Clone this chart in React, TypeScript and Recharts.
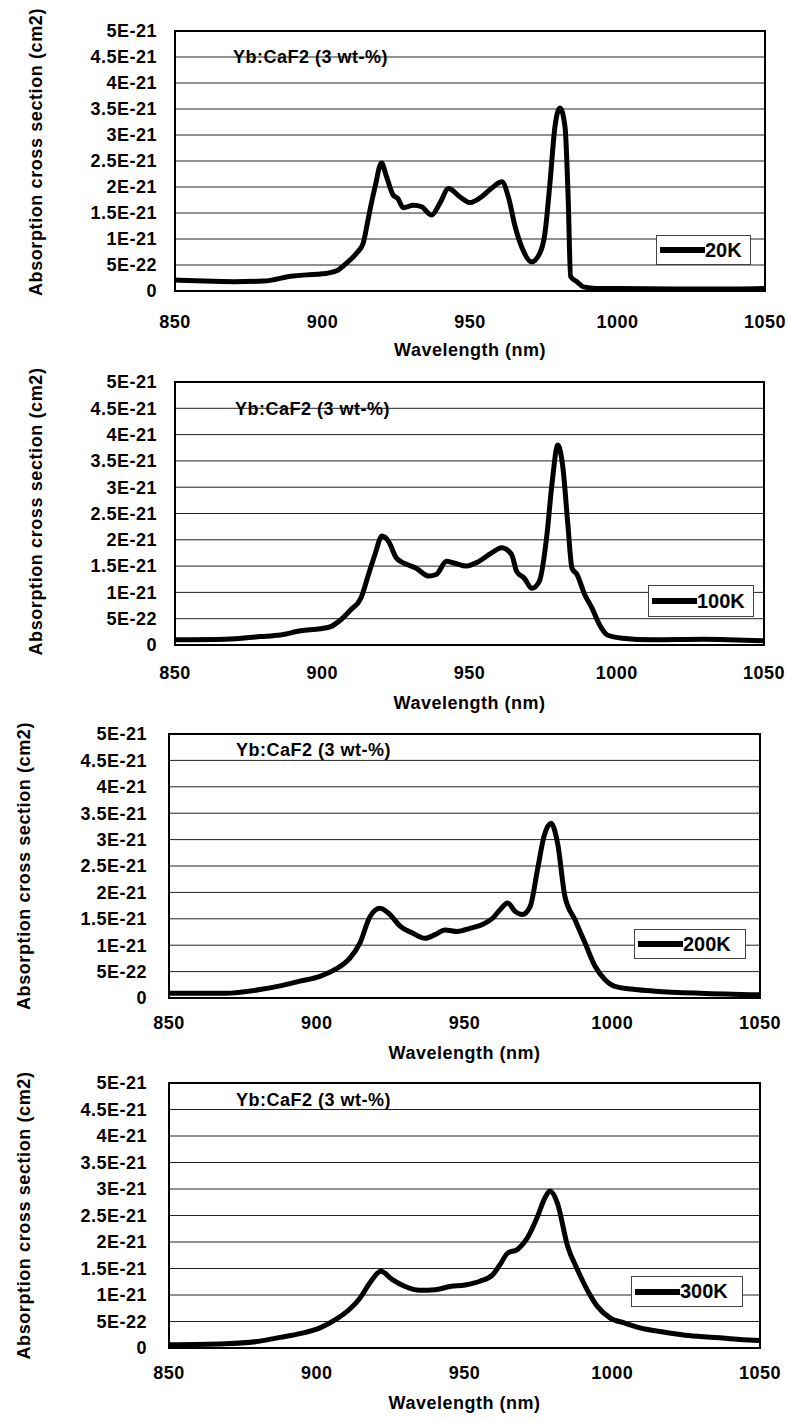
import React from "react";
import {
  LineChart,
  Line,
  XAxis,
  YAxis,
  CartesianGrid,
  Legend,
  ReferenceArea,
  ReferenceDot,
  Label,
} from "recharts";

// absorption cross section, in units of 1E-21 cm2
const wl20K = [850, 860, 870, 880, 890, 894.6, 900, 904.8, 908.2, 911.6, 913.8, 915, 916.1, 917.8, 920, 921.7, 923.9, 925.5, 927.4, 930.8, 933.6, 937, 939.8, 942.7, 946.6, 950, 953.4, 957.4, 960.8, 963, 965.3, 967.5, 970.9, 973.7, 975.4, 977.1, 978.8, 980.5, 982.2, 983.3, 984.1, 986.2, 988.4, 993, 1000, 1020, 1040, 1050];
const abs20K = [0.21, 0.19, 0.18, 0.19, 0.29, 0.31, 0.33, 0.39, 0.54, 0.73, 0.92, 1.24, 1.56, 2.0, 2.46, 2.2, 1.85, 1.78, 1.6, 1.65, 1.62, 1.46, 1.69, 1.97, 1.81, 1.7, 1.79, 1.98, 2.1, 1.81, 1.24, 0.85, 0.56, 0.73, 1.11, 2.07, 3.16, 3.52, 3.16, 1.75, 0.28, 0.18, 0.08, 0.05, 0.05, 0.04, 0.04, 0.05];

const wl100K = [850, 867, 879, 885.8, 892.7, 899.5, 902.9, 906.3, 909.7, 913.1, 915.7, 917.9, 920.3, 922.5, 925.1, 927.6, 931.9, 936.2, 938.7, 942.2, 944.7, 949, 953.2, 957.5, 960.9, 964.3, 966, 968.6, 971.2, 973.7, 976.3, 978, 980, 981.7, 983.4, 984.8, 986.5, 989.1, 991.6, 994.2, 996.8, 1001.9, 1012.1, 1029.2, 1049.7];
const abs100K = [0.1, 0.11, 0.16, 0.19, 0.27, 0.31, 0.35, 0.48, 0.67, 0.89, 1.34, 1.72, 2.07, 1.97, 1.66, 1.56, 1.46, 1.31, 1.34, 1.59, 1.56, 1.5, 1.59, 1.75, 1.85, 1.72, 1.4, 1.27, 1.08, 1.21, 2.1, 3.06, 3.8, 3.38, 2.29, 1.46, 1.34, 0.96, 0.7, 0.38, 0.19, 0.13, 0.1, 0.11, 0.08];

const wl200K = [850, 869, 880.8, 887.6, 894.3, 901.1, 906.2, 911.3, 914.6, 918, 921.4, 924.8, 928.2, 932.4, 936.6, 940, 943.4, 947.6, 951.9, 956.1, 959.5, 962, 964.6, 967.1, 969.6, 972.2, 974.7, 976.9, 979.3, 981.5, 984, 987.4, 990.8, 994.2, 997.5, 1000.9, 1007.7, 1014.5, 1029.7, 1050];
const abs200K = [0.09, 0.09, 0.16, 0.23, 0.32, 0.41, 0.54, 0.76, 1.04, 1.54, 1.7, 1.58, 1.36, 1.23, 1.13, 1.2, 1.29, 1.26, 1.32, 1.39, 1.51, 1.67, 1.8, 1.64, 1.58, 1.73, 2.43, 3.06, 3.31, 2.93, 1.92, 1.48, 1.04, 0.6, 0.35, 0.22, 0.16, 0.13, 0.09, 0.06];

const wl300K = [850, 869, 880.8, 887.6, 894.3, 901.1, 906.2, 911.3, 914.6, 918, 921.7, 925.6, 929.9, 934.9, 940, 945.1, 950.2, 955.2, 959.5, 962, 964.6, 967.9, 971.3, 974.7, 977.2, 978.9, 981.4, 984.9, 988.2, 991.5, 994.9, 999.2, 1004.3, 1009.4, 1016.2, 1024.6, 1034.8, 1043.2, 1050];
const abs300K = [0.06, 0.08, 0.13, 0.2, 0.27, 0.38, 0.53, 0.74, 0.94, 1.23, 1.45, 1.29, 1.16, 1.09, 1.1, 1.16, 1.19, 1.26, 1.38, 1.57, 1.79, 1.86, 2.08, 2.48, 2.83, 2.96, 2.74, 1.92, 1.48, 1.1, 0.79, 0.57, 0.47, 0.38, 0.31, 0.24, 0.2, 0.16, 0.14];

const xTicks = [850, 900, 950, 1000, 1050];
const yTicks = [0, 0.5, 1, 1.5, 2, 2.5, 3, 3.5, 4, 4.5, 5];
const sampleLabel = "Yb:CaF2 (3 wt-%)";
const xTitle = "Wavelength (nm)";
const yTitle = "Absorption cross section (cm2)";

const FONT = "'Liberation Sans', Arial, sans-serif";

const toRows = (wl: number[], v: number[]) => wl.map((w, i) => ({ wl: w, v: v[i] }));
const fmtY = (v: number) => (v === 0 ? "0" : v === 0.5 ? "5E-22" : `${v}E-21`);

const panels = [
  { name: "20K", rows: toRows(wl20K, abs20K), top: 0, height: 365, plotTop: 31, plotBottom: 291, plotLeft: 175, plotRight: 765, xGap: 24, titleGap: 52, yGap: 18, yTitleX: 36, yTitleShift: -9, labelX: 869.3, labelY: 4.5, legend: { left: 656, top: 235, w: 95, h: 30 } },
  { name: "100K", rows: toRows(wl100K, abs100K), top: 362, height: 360, plotTop: 20, plotBottom: 283, plotLeft: 175, plotRight: 764, xGap: 21, titleGap: 51, yGap: 18, yTitleX: 36, yTitleShift: -2, labelX: 870, labelY: 4.5, legend: { left: 648, top: 223, w: 106, h: 32 } },
  { name: "200K", rows: toRows(wl200K, abs200K), top: 716, height: 350, plotTop: 18, plotBottom: 282, plotLeft: 169, plotRight: 760, xGap: 18, titleGap: 48, yGap: 22, yTitleX: 24, yTitleShift: 0, labelX: 872.3, labelY: 4.7, legend: { left: 634, top: 213, w: 112, h: 30 } },
  { name: "300K", rows: toRows(wl300K, abs300K), top: 1066, height: 356, plotTop: 17, plotBottom: 282, plotLeft: 169, plotRight: 760, xGap: 18, titleGap: 48, yGap: 22, yTitleX: 24, yTitleShift: 0, labelX: 872.3, labelY: 4.68, legend: { left: 631, top: 210, w: 112, h: 31 } },
];

function LegendBox({ payload, w, h }: any) {
  const item = payload && payload[0];
  return (
    <div
      style={{
        width: w,
        height: h,
        boxSizing: "border-box",
        border: "1px solid #444",
        background: "#fff",
        display: "flex",
        alignItems: "center",
        fontFamily: FONT,
        fontSize: 20,
        fontWeight: "bold",
        color: "#000",
      }}
    >
      <svg width={48} height={10}>
        <line x1={3} y1={5} x2={48} y2={5} stroke="#000" strokeWidth={6} />
      </svg>
      <span>{item ? item.value : ""}</span>
    </div>
  );
}

function Panel({ p }: any) {
  const tickStyle = { fill: "#000", fontSize: 18, fontFamily: FONT, fontWeight: "bold", letterSpacing: 0.5 };
  return (
    <div style={{ position: "absolute", left: 0, top: p.top }}>
      <LineChart
        width={787}
        height={p.height}
        data={p.rows}
        margin={{ top: p.plotTop, right: 787 - p.plotRight, left: 0, bottom: 0 }}
      >
        <CartesianGrid vertical={false} stroke="#222" strokeWidth={1} />
        <XAxis
          dataKey="wl"
          type="number"
          domain={[850, 1050]}
          ticks={xTicks}
          interval={0}
          axisLine={false}
          tickLine={false}
          tickSize={0}
          tickMargin={p.xGap}
          height={p.height - p.plotBottom}
          tick={tickStyle}
        >
          <Label
            value={xTitle}
            position="insideTop"
            offset={p.titleGap}
            fill="#000"
            fontSize={18}
            fontWeight="bold"
            fontFamily={FONT}
            letterSpacing={0.5}
          />
        </XAxis>
        <YAxis
          type="number"
          domain={[0, 5]}
          ticks={yTicks}
          interval={0}
          tickFormatter={fmtY}
          axisLine={false}
          tickLine={false}
          tickSize={0}
          tickMargin={p.yGap}
          width={p.plotLeft}
          tick={tickStyle}
        >
          <Label
            content={(props: any) => {
              const vb = props.viewBox || {};
              const cy = vb.y + vb.height / 2 + p.yTitleShift;
              return (
                <text
                  x={p.yTitleX}
                  y={cy}
                  transform={`rotate(-90 ${p.yTitleX} ${cy})`}
                  textAnchor="middle"
                  dominantBaseline="central"
                  fill="#000"
                  fontSize={18}
                  fontWeight="bold"
                  fontFamily={FONT}
                  letterSpacing={0.6}
                >
                  {yTitle}
                </text>
              );
            }}
          />
        </YAxis>
        <ReferenceArea x1={850} x2={1050} y1={0} y2={5} fill="none" stroke="#000" strokeWidth={2} />
        <ReferenceDot
          x={p.labelX}
          y={p.labelY}
          r={1}
          fill="none"
          stroke="none"
          label={{
            value: sampleLabel,
            position: "right",
            offset: 0,
            fill: "#000",
            fontSize: 18,
            fontWeight: "bold",
            fontFamily: FONT,
            letterSpacing: 0.5,
          }}
        />
        <Line
          dataKey="v"
          name={p.name}
          type="monotone"
          stroke="#000"
          strokeWidth={5}
          strokeLinejoin="round"
          dot={false}
          isAnimationActive={false}
        />
        <Legend
          layout="vertical"
          align="center"
          verticalAlign="middle"
          wrapperStyle={{ left: p.legend.left, top: p.legend.top, width: p.legend.w, height: p.legend.h }}
          content={(props: any) => <LegendBox payload={props.payload} w={p.legend.w} h={p.legend.h} />}
        />
      </LineChart>
    </div>
  );
}

export default function App() {
  return (
    <div style={{ position: "absolute", left: 0, top: 0, width: 787, height: 1422, background: "#fff" }}>
      {panels.map((p) => (
        <Panel key={p.name} p={p} />
      ))}
    </div>
  );
}
